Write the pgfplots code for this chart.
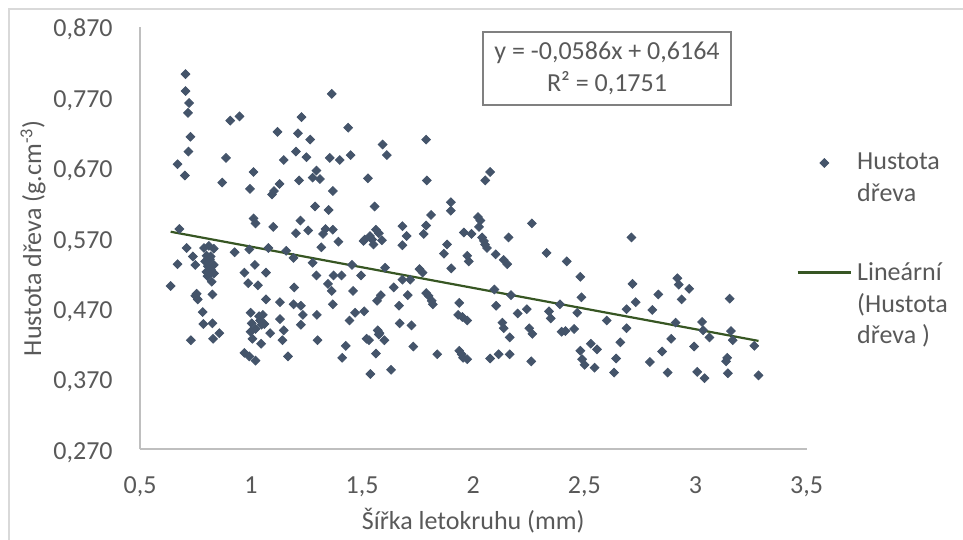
\documentclass[border=0pt]{standalone}
\usepackage{pgfplots}
\pgfplotsset{compat=1.18}
\usepackage{fontspec}
\setmainfont{Carlito}
\definecolor{txt}{HTML}{595959}
\definecolor{pts}{HTML}{44546A}
\definecolor{trend}{HTML}{375623}
\definecolor{axl}{HTML}{BFBFBF}
\definecolor{brd}{HTML}{D9D9D9}
\definecolor{eqbox}{HTML}{808080}

% legend images sit on the first line of their (multi-line) entry
\pgfplotsset{
  markleg/.style={legend image code/.code={\path[draw=none, fill=none] (0pt,-10pt) rectangle (26.7pt,10pt);
    \draw[mark repeat=2,mark phase=2,##1] plot coordinates {(0pt,8pt) (13.35pt,8pt) (26.7pt,8pt)};}},
  lineleg/.style={legend image code/.code={\path[draw=none, fill=none] (0pt,-17pt) rectangle (26.7pt,17pt);
    \draw[##1] (0pt,16.3pt) -- (26.7pt,16.3pt);}},
}

\pgfplotstableread{
x y
0.638 0.502
0.669 0.675
0.669 0.533
0.677 0.583
0.702 0.659
0.705 0.803
0.705 0.779
0.710 0.556
0.716 0.748
0.721 0.762
0.727 0.714
0.718 0.693
0.729 0.425
0.738 0.544
0.749 0.532
0.749 0.488
0.760 0.483
0.755 0.491
0.782 0.465
0.785 0.448
0.788 0.556
0.793 0.537
0.799 0.522
0.804 0.516
0.810 0.559
0.818 0.544
0.823 0.508
0.826 0.490
0.826 0.449
0.829 0.427
0.832 0.555
0.832 0.532
0.805 0.530
0.815 0.540
0.820 0.525
0.800 0.545
0.833 0.520
0.857 0.435
0.870 0.649
0.887 0.684
0.906 0.737
0.926 0.550
0.948 0.743
0.970 0.521
0.970 0.407
0.987 0.506
0.992 0.402
0.995 0.640
0.992 0.554
0.998 0.464
0.998 0.437
1.003 0.449
1.006 0.427
1.011 0.664
1.011 0.598
1.020 0.591
1.017 0.532
1.020 0.396
1.031 0.503
1.036 0.459
1.045 0.420
1.047 0.447
1.053 0.461
1.040 0.453
1.060 0.448
1.020 0.441
1.067 0.521
1.067 0.483
1.078 0.556
1.086 0.435
1.094 0.632
1.103 0.637
1.100 0.586
1.119 0.721
1.128 0.647
1.130 0.479
1.130 0.455
1.141 0.425
1.147 0.681
1.147 0.439
1.158 0.552
1.166 0.402
1.191 0.542
1.194 0.500
1.191 0.476
1.202 0.693
1.202 0.577
1.211 0.719
1.216 0.652
1.222 0.595
1.224 0.474
1.224 0.447
1.227 0.742
1.233 0.461
1.249 0.685
1.257 0.581
1.266 0.710
1.277 0.656
1.277 0.535
1.288 0.615
1.294 0.666
1.294 0.517
1.296 0.461
1.299 0.425
1.310 0.654
1.316 0.557
1.324 0.576
1.335 0.583
1.349 0.610
1.346 0.505
1.354 0.684
1.363 0.775
1.363 0.495
1.368 0.637
1.368 0.582
1.368 0.476
1.371 0.517
1.393 0.565
1.399 0.681
1.407 0.517
1.410 0.400
1.426 0.417
1.437 0.727
1.443 0.453
1.448 0.688
1.454 0.532
1.459 0.495
1.468 0.464
1.495 0.517
1.506 0.566
1.509 0.466
1.512 0.568
1.520 0.427
1.531 0.425
1.526 0.655
1.537 0.377
1.545 0.568
1.551 0.561
1.535 0.573
1.575 0.577
1.556 0.615
1.562 0.582
1.562 0.406
1.567 0.481
1.570 0.439
1.578 0.435
1.575 0.433
1.584 0.489
1.589 0.567
1.592 0.703
1.600 0.425
1.603 0.528
1.611 0.688
1.630 0.383
1.642 0.500
1.666 0.474
1.669 0.449
1.681 0.587
1.681 0.560
1.681 0.511
1.700 0.573
1.705 0.489
1.716 0.511
1.722 0.446
1.730 0.416
1.758 0.526
1.772 0.521
1.777 0.576
1.788 0.588
1.791 0.652
1.788 0.710
1.788 0.492
1.799 0.488
1.810 0.603
1.813 0.481
1.818 0.476
1.838 0.405
1.868 0.548
1.882 0.561
1.899 0.621
1.899 0.609
1.901 0.527
1.937 0.478
1.932 0.461
1.937 0.410
1.948 0.405
1.954 0.400
1.973 0.398
1.951 0.458
1.973 0.453
1.973 0.545
1.980 0.537
1.958 0.578
1.992 0.576
2.021 0.600
2.032 0.595
2.026 0.586
2.040 0.571
2.048 0.566
2.062 0.556
2.053 0.561
2.054 0.652
2.076 0.664
2.076 0.399
2.095 0.497
2.101 0.547
2.103 0.474
2.114 0.405
2.131 0.450
2.137 0.442
2.137 0.539
2.153 0.533
2.159 0.571
2.164 0.429
2.164 0.405
2.170 0.489
2.200 0.463
2.241 0.469
2.252 0.442
2.266 0.434
2.264 0.591
2.261 0.395
2.330 0.549
2.341 0.466
2.349 0.456
2.390 0.476
2.398 0.437
2.415 0.438
2.421 0.537
2.454 0.441
2.468 0.464
2.482 0.515
2.487 0.486
2.482 0.410
2.490 0.398
2.501 0.390
2.529 0.420
2.557 0.412
2.546 0.386
2.601 0.453
2.634 0.379
2.643 0.399
2.662 0.422
2.690 0.442
2.690 0.469
2.712 0.571
2.717 0.505
2.731 0.479
2.795 0.394
2.806 0.468
2.833 0.490
2.850 0.409
2.875 0.379
2.891 0.427
2.911 0.450
2.919 0.513
2.925 0.504
2.938 0.483
2.972 0.498
2.994 0.416
3.008 0.380
3.030 0.451
3.041 0.371
3.035 0.439
3.063 0.429
3.138 0.395
3.143 0.400
3.146 0.378
3.154 0.484
3.160 0.438
3.168 0.425
3.265 0.417
3.284 0.375
}\hustota

\begin{document}
\fontsize{13}{15.8}\selectfont
\begin{tikzpicture}
\useasboundingbox (0,0) rectangle (481.5pt,270pt);
\draw[brd, line width=0.75pt] (4.5pt,0pt) -- (4.5pt,265.5pt) -- (481.5pt,265.5pt);
\begin{axis}[
  at={(70pt,45.35pt)}, anchor=south west,
  scale only axis, width=333.25pt, height=211.15pt,
  xmin=0.5, xmax=3.5, ymin=0.27, ymax=0.87,
  xtick={0.5,1,...,3.5},
  ytick={0.27,0.37,0.47,0.57,0.67,0.77,0.87},
  axis lines*=left,
  axis line style={axl, line width=1pt},
  major tick length=0pt,
  tick label style={text=txt},
  xticklabel style={anchor=base, inner sep=0pt, yshift=-22.1pt,
    /pgf/number format/.cd, use comma, assume math mode=true},
  yticklabel style={anchor=base east, inner sep=0pt, xshift=-13.5pt, yshift=-5pt,
    /pgf/number format/.cd, fixed, fixed zerofill, precision=3, use comma, assume math mode=true},
  xlabel={Šířka letokruhu (mm)},
  xlabel style={at={(axis description cs:0.5,-0.1909)}, anchor=base, inner sep=0pt, text=txt},
  ylabel={Hustota dřeva (g.cm\textsuperscript{-3})},
  ylabel style={at={(axis description cs:-0.1605,0.5)}, anchor=center, inner sep=0pt, text=txt},
  legend style={at={(axis description cs:0.9851,0.7019)}, anchor=north west,
    draw=none, fill=none, inner sep=0pt, outer sep=0pt,
    row sep=28.8pt, column sep=2.5pt,
    nodes={align=left, inner sep=0pt, text=txt}},
  legend cell align=left,
]
\addplot[only marks, mark=square*, mark size=1.55pt,
  mark options={rotate=45, fill=pts, draw=pts}, markleg]
  table[x=x, y=y] {\hustota};
\addlegendentry{Hustota\\dřeva}
\addplot[trend, line width=1.1pt, no marks, lineleg]
  coordinates {(0.638,0.5791) (3.284,0.4240)};
\addlegendentry{Lineární\\(Hustota\\dřeva )}
\end{axis}
\node[draw=eqbox, line width=0.9pt, minimum width=124pt, minimum height=36.5pt,
  align=center, text=txt, inner sep=0pt] at (303.5pt,235.75pt)
  {y = -0,0586x + 0,6164\\R² = 0,1751};
\end{tikzpicture}
\end{document}
